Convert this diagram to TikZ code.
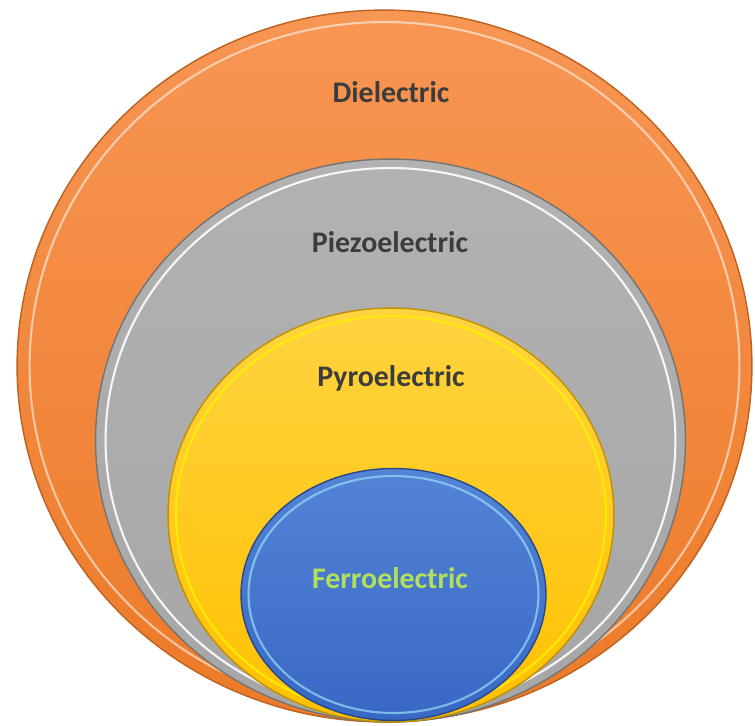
\documentclass[tikz,border=0pt]{standalone}
\usepackage{fontspec}
\setmainfont{Carlito}
\usetikzlibrary{shapes.geometric,positioning}

\definecolor{dielTop}{RGB}{248,150,84}
\definecolor{dielBot}{RGB}{236,122,40}
\definecolor{piezoTop}{RGB}{178,178,178}
\definecolor{piezoBot}{RGB}{166,166,166}
\definecolor{pyroTop}{RGB}{255,212,64}
\definecolor{pyroBot}{RGB}{255,192,0}
\definecolor{ferroTop}{RGB}{84,132,214}
\definecolor{ferroBot}{RGB}{56,104,196}
\definecolor{labelgray}{RGB}{60,60,60}
\definecolor{ferrogreen}{RGB}{178,224,92}

\begin{document}
\begin{tikzpicture}[x=0.02cm,y=-0.02cm,
  every node/.style={inner sep=0pt,outer sep=0pt},
  disc/.style={ellipse,line width=0.8pt},
  gloss/.style={ellipse,draw=white,draw opacity=0.55,line width=1.2pt},
  lbl/.style={anchor=base,text=labelgray,font=\bfseries\fontsize{17}{20}\selectfont}]
\useasboundingbox (0,0) rectangle (755,726);
% outer to inner
\node[disc,draw=dielBot!80!black,top color=dielTop,bottom color=dielBot,
  minimum width=14.7cm,minimum height=14.24cm] (diel) at (384.5,366) {};
\node[gloss,minimum width=14.2cm,minimum height=13.76cm] (dielgloss) at (diel.center) {};
\node[disc,draw=piezoBot!70!black,top color=piezoTop,bottom color=piezoBot,
  minimum width=11.8cm,minimum height=11.26cm] (piezo) at (390.5,440.5) {};
\node[gloss,draw opacity=0.9,minimum width=11.4cm,minimum height=10.9cm] (piezogloss) at (piezo.center) {};
\node[disc,draw=pyroBot!75!black,top color=pyroTop,bottom color=pyroBot,
  minimum width=8.92cm,minimum height=8.28cm] (pyro) at (391,515) {};
\node[gloss,draw=yellow,draw opacity=0.8,minimum width=8.6cm,minimum height=7.96cm] (pyrogloss) at (pyro.center) {};
\node[disc,draw=ferroBot!70!black,top color=ferroTop,bottom color=ferroBot,
  minimum width=6.1cm,minimum height=5.04cm] (ferro) at (393.5,594.5) {};
\node[gloss,draw=cyan!40,draw opacity=0.7,minimum width=5.8cm,minimum height=4.74cm] (ferrogloss) at (ferro.center) {};
% labels
\node[lbl] (dieltext) at (391,103) {Dielectric};
\node[lbl] (piezotext) at (390,253) {Piezoelectric};
\node[lbl] (pyrotext) at (391,387) {Pyroelectric};
\node[lbl,text=ferrogreen] (ferrotext) at (390,589) {Ferroelectric};
\end{tikzpicture}
\end{document}
